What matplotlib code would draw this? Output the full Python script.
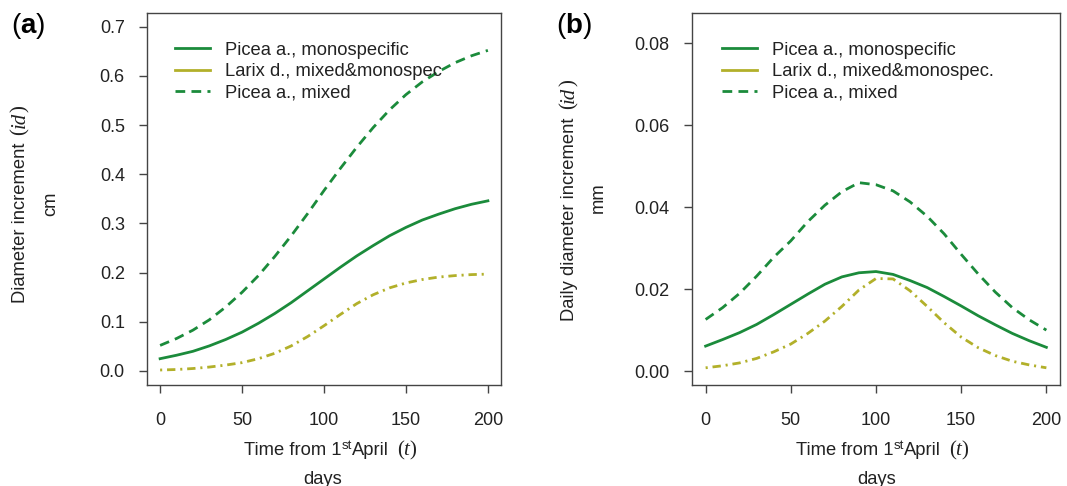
import matplotlib
matplotlib.use("Agg")
import matplotlib.pyplot as plt
from matplotlib.lines import Line2D
from matplotlib.transforms import IdentityTransform

plt.rcParams["font.family"] = ["Liberation Sans", "DejaVu Sans"]
plt.rcParams["mathtext.fontset"] = "custom"
plt.rcParams["mathtext.rm"] = "Liberation Sans"
plt.rcParams["mathtext.bf"] = "Liberation Sans:bold"
plt.rcParams["lines.scale_dashes"] = False

# days from 1st April
days = [0, 10, 20, 30, 40, 50, 60, 70, 80, 90, 100,
        110, 120, 130, 140, 150, 160, 170, 180, 190, 200]

# cumulative diameter increment, cm
picea_mono_cum = [0.025, 0.032, 0.040, 0.051, 0.064, 0.079, 0.097, 0.117, 0.139, 0.163, 0.187,
                  0.211, 0.234, 0.255, 0.275, 0.292, 0.307, 0.319, 0.330, 0.339, 0.346]
larix_cum = [0.002, 0.003, 0.005, 0.008, 0.012, 0.017, 0.025, 0.036, 0.051, 0.070, 0.092,
             0.115, 0.137, 0.155, 0.169, 0.179, 0.186, 0.191, 0.194, 0.196, 0.197]
picea_mixed_cum = [0.052, 0.066, 0.083, 0.104, 0.130, 0.160, 0.194, 0.233, 0.275, 0.320, 0.367,
                   0.412, 0.455, 0.495, 0.531, 0.562, 0.588, 0.609, 0.627, 0.641, 0.652]

# daily diameter increment, mm
picea_mono_daily = [0.0061, 0.0077, 0.0094, 0.0114, 0.0138, 0.0163, 0.0188, 0.0212, 0.0230, 0.0240, 0.0243,
                    0.0236, 0.0221, 0.0204, 0.0182, 0.0159, 0.0135, 0.0113, 0.0092, 0.0074, 0.0058]
larix_daily = [0.0008, 0.0013, 0.0020, 0.0031, 0.0047, 0.0066, 0.0092, 0.0122, 0.0158, 0.0198, 0.0226,
               0.0225, 0.0196, 0.0158, 0.0118, 0.0083, 0.0057, 0.0038, 0.0024, 0.0015, 0.0008]
picea_mixed_daily = [0.0126, 0.0155, 0.0190, 0.0232, 0.0278, 0.0318, 0.0365, 0.0405, 0.0438, 0.0460, 0.0455,
                     0.0440, 0.0413, 0.0378, 0.0335, 0.0285, 0.0237, 0.0193, 0.0155, 0.0125, 0.0100]

legend_a = ["Picea a., monospecific", "Larix d., mixed&monospec", "Picea a., mixed"]
legend_b = ["Picea a., monospecific", "Larix d., mixed&monospec.", "Picea a., mixed"]

GREEN = "#1b8b3b"
OLIVE = "#b2b02a"
TXT = "#222222"
LW = 2.0
DASH = (0, (7, 4.5))
DOTDASH = (0, (1.5, 3.5, 6, 3.5))
FS = 13.2

W, H = 1067, 486
fig = plt.figure(figsize=(W / 100, H / 100), dpi=100)
renderer = fig.canvas.get_renderer()


def fx(x):
    return x / W


def fy(y):
    return 1 - y / H


SANS = dict(family="Liberation Sans", fontsize=FS)
SUP = dict(family="Liberation Sans", fontsize=9.5, rise=6)
PAREN = dict(family="Liberation Serif", fontsize=15)
ITAL = dict(family="Liberation Serif", style="italic", fontsize=15)


def rich_text(cx, cy, pieces, vertical=False):
    """Lay out runs of differently styled text along one baseline.
    cx, cy in pixels from top-left; for horizontal text cy is the baseline,
    for vertical text cx is the baseline and cy the centre."""
    runs = []
    for s, style, gap in pieces:
        kw = {k: v for k, v in style.items() if k != "rise"}
        t = fig.text(0, 0, s, **kw)
        w = t.get_window_extent(renderer).width
        t.remove()
        runs.append((s, kw, style.get("rise", 0), gap, w))
    total = sum(g + w for _, _, _, g, w in runs)
    pos = (cx if not vertical else H - cy) - total / 2
    for s, kw, rise, gap, w in runs:
        pos += gap
        if vertical:
            x, y, rot = cx - rise, pos, 90
        else:
            x, y, rot = pos, H - cy + rise, 0
        fig.text(x, y, s, transform=IdentityTransform(), rotation=rot,
                 rotation_mode="anchor", ha="left", va="baseline", color=TXT, **kw)
        pos += w


def style_axes(ax, xlim, ylim, yticks, yfmt):
    ax.set_xlim(*xlim)
    ax.set_ylim(*ylim)
    ax.set_xticks([0, 50, 100, 150, 200])
    ax.set_yticks(yticks)
    ax.set_yticklabels([yfmt.format(v) for v in yticks])
    for s in ax.spines.values():
        s.set_color("#444444")
        s.set_linewidth(1.0)
    ax.tick_params(axis="both", direction="out", length=6, width=1.0,
                   color="#444444", labelsize=13, labelcolor=TXT)
    ax.tick_params(axis="x", pad=13.5)
    ax.tick_params(axis="y", pad=10)


def add_legend(ax, labels, x0):
    handles = [Line2D([], [], color=GREEN, lw=LW),
               Line2D([], [], color=OLIVE, lw=LW),
               Line2D([], [], color=GREEN, lw=LW, linestyle=DASH)]
    leg = ax.legend(handles, labels, loc="upper left", bbox_to_anchor=(x0, 0.922),
                    frameon=False, fontsize=FS, borderpad=0, borderaxespad=0,
                    handlelength=1.91, handletextpad=0.82, labelspacing=0.24)
    for t in leg.get_texts():
        t.set_color(TXT)


# panel (a): cumulative increment
ax1 = fig.add_axes([fx(147), fy(385), fx(501) - fx(147), fy(12.7) - fy(385)])
ax1.plot(days, picea_mono_cum, color=GREEN, lw=LW)
ax1.plot(days, larix_cum, color=OLIVE, lw=LW, linestyle=DOTDASH)
ax1.plot(days, picea_mixed_cum, color=GREEN, lw=LW, linestyle=DASH)
style_axes(ax1, (-8, 208), (-0.0285, 0.7286),
           [0.0, 0.1, 0.2, 0.3, 0.4, 0.5, 0.6, 0.7], "{:.1f}")
add_legend(ax1, legend_a, 0.079)

# panel (b): daily increment
ax2 = fig.add_axes([fx(692), fy(385), fx(1060) - fx(692), fy(12.7) - fy(385)])
ax2.plot(days, picea_mono_daily, color=GREEN, lw=LW)
ax2.plot(days, larix_daily, color=OLIVE, lw=LW, linestyle=DOTDASH)
ax2.plot(days, picea_mixed_daily, color=GREEN, lw=LW, linestyle=DASH)
style_axes(ax2, (-8, 208), (-0.0034, 0.0875),
           [0.00, 0.02, 0.04, 0.06, 0.08], "{:.2f}")
add_legend(ax2, legend_b, 0.0815)

time_label = [("Time from 1", SANS, 0), ("st", SUP, 0.5), ("April", SANS, 0),
              ("(", PAREN, 8), ("t", ITAL, -0.5), (")", PAREN, 0.5)]

rich_text(25, 204, [("Diameter increment", SANS, 0), ("(", PAREN, 8),
                    ("id", ITAL, -0.5), (")", PAREN, 0.5)], vertical=True)
rich_text(55, 204, [("cm", SANS, 0)], vertical=True)
rich_text(330, 455, time_label)
rich_text(323, 484, [("days", SANS, 0)])

rich_text(574, 200, [("Daily diameter increment", SANS, 0), ("(", PAREN, 8),
                     ("id", ITAL, -0.5), (")", PAREN, 0.5)], vertical=True)
rich_text(603, 198, [("mm", SANS, 0)], vertical=True)
rich_text(882, 455, time_label)
rich_text(877, 484, [("days", SANS, 0)])

fig.text(fx(28), fy(26), r"($\mathbf{a}$)", fontsize=20, ha="center", va="center")
fig.text(fx(574), fy(26), r"($\mathbf{b}$)", fontsize=20, ha="center", va="center")

fig.savefig("out.png", dpi=100)
